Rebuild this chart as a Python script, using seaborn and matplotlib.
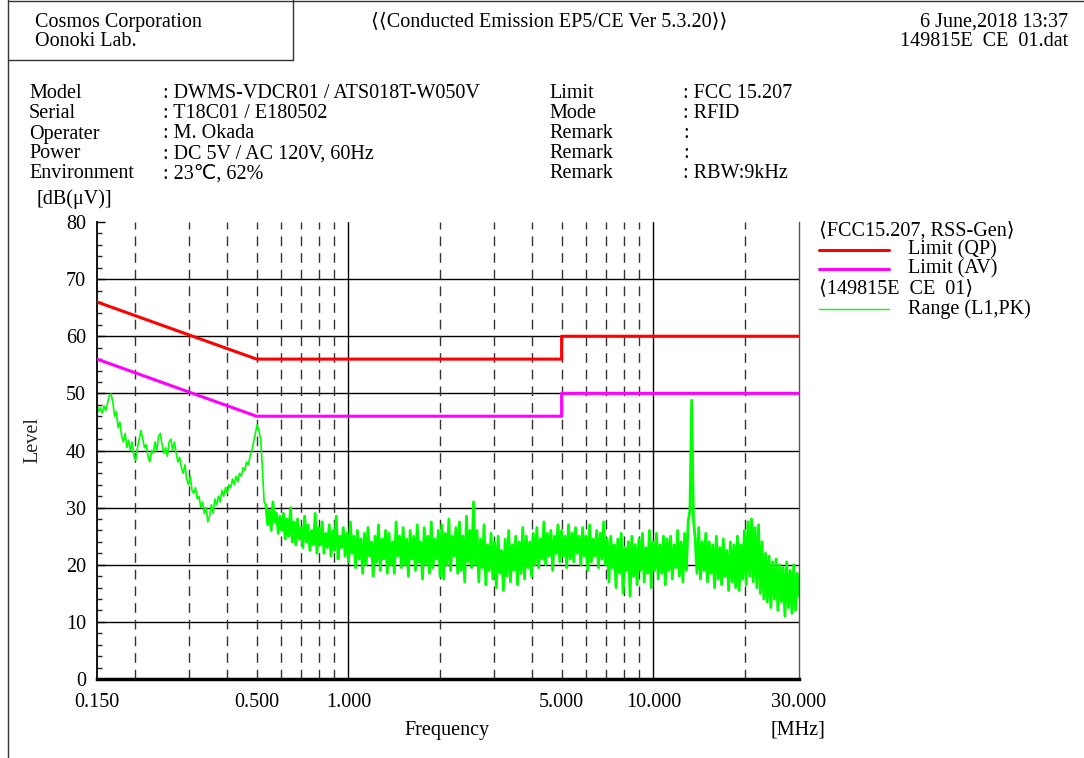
import numpy as np
import pandas as pd
import matplotlib.pyplot as plt
from matplotlib.lines import Line2D
from matplotlib.ticker import MultipleLocator, NullLocator
import seaborn as sns

# limit lines (FCC 15.207)
limit_freq = [0.15, 0.5, 5.0, 5.0, 30.0]
qp_limit = [66, 56, 56, 60, 60]
av_limit = [56, 46, 46, 50, 50]

level_low = [
    48.0, 46.8, 47.5, 46.5, 47.8, 47.0, 48.3, 49.6, 49.9, 48.5,
    46.0, 46.8, 44.0, 45.0, 42.5, 41.5, 43.0, 40.5, 41.8, 40.0,
    41.5, 39.0, 38.3, 40.5, 42.0, 43.5, 42.0, 40.5, 41.0, 39.0,
    38.0, 40.0, 39.5, 41.5, 40.0, 42.5, 43.0, 41.0, 39.5, 40.5,
    39.0, 41.5, 42.0, 40.0, 41.5, 39.5, 38.0, 38.8, 37.0, 36.0,
    37.5, 35.0, 34.0, 35.5, 33.0, 32.5, 33.5, 31.5, 32.0, 30.0,
    31.0, 29.0, 30.0, 27.5, 28.5, 30.5, 29.0, 31.5, 30.5, 32.0,
    31.0, 33.0, 32.0, 33.5, 32.5, 34.0, 33.5, 35.0, 34.0, 35.5,
    34.5, 36.0, 35.5, 37.0, 36.5, 38.0, 37.5, 39.0, 40.0, 41.5,
    43.0, 44.5, 43.5, 42.0, 37.0, 31.0,
]
level_high = [
    30.5, 27.0, 29.5, 26.0, 31.0, 27.5, 29.0, 25.5, 28.5, 26.0,
    29.0, 24.5, 28.0, 25.0, 30.0, 24.0, 27.5, 23.5, 28.0, 24.5,
    26.5, 23.0, 28.5, 24.0, 27.0, 22.5, 26.0, 23.5, 29.0, 22.0,
    26.5, 23.5, 27.5, 22.0, 25.5, 23.0, 27.0, 21.5, 26.0, 22.5,
    28.5, 21.0, 25.0, 23.0, 26.5, 21.5, 25.5, 20.5, 27.5, 22.0,
    25.0, 19.5, 26.0, 21.0, 24.5, 18.5, 25.5, 20.0, 26.5, 21.5,
    24.0, 18.0, 25.0, 20.5, 27.0, 19.0, 24.5, 21.0, 26.0, 18.5,
    25.5, 20.0, 24.0, 18.5, 27.5, 21.5, 25.0, 19.5, 26.5, 20.0,
    24.5, 18.0, 26.0, 21.0, 25.0, 19.0, 27.0, 20.5, 24.0, 17.5,
    26.5, 20.0, 25.0, 18.5, 27.5, 19.5, 24.5, 21.0, 26.0, 18.0,
    27.0, 17.5, 25.5, 20.0, 28.0, 19.0, 25.0, 21.5, 26.5, 18.5,
    27.5, 19.0, 25.0, 17.0, 28.5, 20.5, 26.0, 19.5, 31.0, 20.0,
    26.0, 17.0, 24.5, 19.5, 27.0, 16.5, 23.5, 19.0, 25.5, 17.5,
    24.0, 16.0, 25.0, 18.5, 22.5, 15.5, 24.5, 18.0, 26.0, 17.0,
    23.5, 19.0, 25.0, 16.5, 24.0, 18.5, 26.5, 17.5, 25.0, 19.5,
    24.0, 18.0, 25.5, 20.0, 26.5, 19.5, 24.5, 21.0, 27.5, 20.0,
    25.5, 21.5, 26.0, 19.0, 25.0, 22.0, 27.0, 20.5, 26.0, 21.5,
    25.0, 19.5, 27.0, 21.0, 25.5, 20.5, 26.5, 22.0, 25.0, 20.0,
    26.5, 21.5, 25.0, 19.0, 27.0, 20.5, 24.5, 21.5, 26.0, 19.5,
    25.5, 21.0, 27.5, 20.0, 24.5, 17.0, 25.0, 19.5, 23.5, 16.0,
    24.5, 18.5, 25.5, 15.0, 23.0, 19.0, 24.0, 14.5, 25.0, 18.0,
    23.5, 16.5, 24.5, 19.0, 25.5, 17.0, 23.0, 18.5, 26.0, 16.0,
    24.0, 19.0, 25.5, 17.5, 23.5, 18.5, 25.0, 16.5, 24.5, 19.0,
    25.0, 17.5, 23.5, 19.5, 26.0, 18.0, 24.0, 17.0, 25.5, 19.0,
    27.5, 29.5, 48.8, 28.0, 24.5, 18.5, 26.5, 17.5, 24.0, 19.0,
    25.5, 17.0, 24.0, 18.5, 23.5, 16.0, 25.0, 17.5, 23.0, 16.5,
    24.5, 18.0, 22.5, 15.5, 24.0, 17.0, 23.5, 16.0, 25.0, 15.5,
    23.5, 17.5, 26.0, 16.5, 27.5, 18.0, 28.0, 17.0, 26.5, 16.0,
    27.0, 15.0, 24.0, 14.0, 22.0, 13.5, 21.5, 12.5, 20.5, 14.0,
    21.0, 12.0, 20.0, 13.5, 19.5, 11.0, 20.5, 12.5, 19.0, 11.5,
    20.0, 12.0, 18.5, 14.5,
]

xtick_vals = [0.15, 0.5, 1.0, 5.0, 10.0, 30.0]
xtick_labels = ['0.150', '0.500', '1.000', '5.000', '10.000', '30.000']
dashed_freqs = [0.2, 0.3, 0.4, 0.5, 0.6, 0.7, 0.8, 0.9, 2, 3, 4, 5, 6, 7, 8, 9, 20]
solid_freqs = [1, 10]

trace = pd.DataFrame({'level': level_low + level_high})
trace['freq'] = np.geomspace(0.15, 30, len(trace))
n_low = len(level_low)
limits = pd.DataFrame({'freq': limit_freq, 'qp': qp_limit, 'av': av_limit})

sns.set_theme(style='white')
plt.rcParams['font.family'] = ['Liberation Serif', 'DejaVu Sans', 'Noto Sans CJK JP']
FS = 14.5

W, H = 1084, 758
def fx(x):
    return x / W
def fy(y):
    return 1 - y / H

fig = plt.figure(figsize=(10.84, 7.58), dpi=100)
ax = fig.add_axes([fx(97), fy(679), (799 - 97) / W, (679 - 222) / H])

# grid
for v in range(10, 80, 10):
    ax.axhline(v, color='black', lw=1, zorder=1)
for f in dashed_freqs:
    ax.axvline(f, color='#333333', lw=1, ls=(0, (7, 5)), zorder=1)
for f in solid_freqs:
    ax.axvline(f, color='black', lw=1, zorder=1)

# the dense part of the sweep is drawn heavier so the noise band fills in
sns.lineplot(data=trace.iloc[:n_low + 1], x='freq', y='level', ax=ax, color='#00ff00',
             lw=1.2, estimator=None, sort=False, zorder=2)
sns.lineplot(data=trace.iloc[n_low:], x='freq', y='level', ax=ax, color='#00ff00',
             lw=2.0, estimator=None, sort=False, zorder=2)
sns.lineplot(data=limits, x='freq', y='qp', ax=ax, color='#ff0000', lw=2.2,
             estimator=None, sort=False, zorder=3)
sns.lineplot(data=limits, x='freq', y='av', ax=ax, color='#ff00ff', lw=2.2,
             estimator=None, sort=False, zorder=3)

ax.set_xscale('log')
ax.set_xlim(0.15, 30)
ax.set_ylim(0, 80)
ax.set_xticks(xtick_vals)
ax.set_xticklabels(xtick_labels)
ax.xaxis.set_minor_locator(NullLocator())
ax.yaxis.set_major_locator(MultipleLocator(10))
ax.yaxis.set_minor_locator(MultipleLocator(2))
ax.tick_params(axis='x', which='both', length=0, pad=10, labelsize=FS, colors='black')
ax.tick_params(axis='y', which='major', direction='in', length=6, width=1, pad=8,
               labelsize=FS, colors='black', left=True)
ax.tick_params(axis='y', which='minor', direction='in', length=3.5, width=1, left=True)
ax.set_xlabel('')
ax.set_ylabel('')
ax.spines['top'].set_visible(False)
ax.spines['left'].set_color('black')
ax.spines['left'].set_linewidth(1.3)
ax.spines['bottom'].set_color('black')
ax.spines['bottom'].set_linewidth(2.5)
ax.spines['right'].set_color('#555555')
ax.spines['right'].set_linewidth(1)

# frame of the report header
line_kw = dict(transform=fig.transFigure, color='#333333', lw=1)
fig.add_artist(Line2D([fx(8), fx(8)], [fy(0), fy(758)], **line_kw))
fig.add_artist(Line2D([fx(8), fx(1084)], [fy(1), fy(1)], **line_kw))
fig.add_artist(Line2D([fx(293), fx(293)], [fy(0), fy(60)], **line_kw))
fig.add_artist(Line2D([fx(8), fx(293)], [fy(60), fy(60)], **line_kw))

def txt(x, y, s, ha='left', **kw):
    fig.text(fx(x), fy(y), s, ha=ha, va='center', fontsize=FS, color='black', **kw)

txt(35, 22, 'Cosmos Corporation')
txt(35, 42, 'Oonoki Lab.')
txt(549, 22, '⟨⟨Conducted Emission EP5/CE Ver 5.3.20⟩⟩', ha='center')
txt(1068, 22, '6 June,2018 13:37', ha='right')
txt(1068, 42, '149815E  CE  01.dat', ha='right')

left_rows = [('Model', ': DWMS-VDCR01 / ATS018T-W050V'),
             ('Serial', ': T18C01 / E180502'),
             ('Operater', ': M. Okada'),
             ('Power', ': DC 5V / AC 120V, 60Hz'),
             ('Environment', ': 23℃, 62%')]
right_rows = [('Limit', ': FCC 15.207'),
              ('Mode', ': RFID'),
              ('Remark', ':'),
              ('Remark', ':'),
              ('Remark', ': RBW:9kHz')]
for i, (k, v) in enumerate(left_rows):
    txt(29, 94 + 20 * i, k)
    txt(163, 94 + 20 * i, v)
for i, (k, v) in enumerate(right_rows):
    txt(549, 94 + 20 * i, k)
    txt(683, 94 + 20 * i, v)

txt(37, 199, '[dB(μV)]')
fig.text(fx(33), fy(440), 'Level', rotation=90, ha='center', va='center', fontsize=FS)
txt(447, 730, 'Frequency', ha='center')
txt(798, 730, '[MHz]', ha='center')

# legend outside the plot
txt(819, 231, '⟨FCC15.207, RSS-Gen⟩')
fig.add_artist(Line2D([fx(819), fx(889)], [fy(250), fy(250)], transform=fig.transFigure,
                      color='#ff0000', lw=2.2))
txt(908, 250, 'Limit (QP)')
fig.add_artist(Line2D([fx(819), fx(889)], [fy(269), fy(269)], transform=fig.transFigure,
                      color='#ff00ff', lw=2.2))
txt(908, 269, 'Limit (AV)')
txt(819, 289, '⟨149815E  CE  01⟩')
fig.add_artist(Line2D([fx(819), fx(889)], [fy(309), fy(309)], transform=fig.transFigure,
                      color='#00ff00', lw=1))
txt(908, 309, 'Range (L1,PK)')

fig.savefig('out.png', dpi=100)
